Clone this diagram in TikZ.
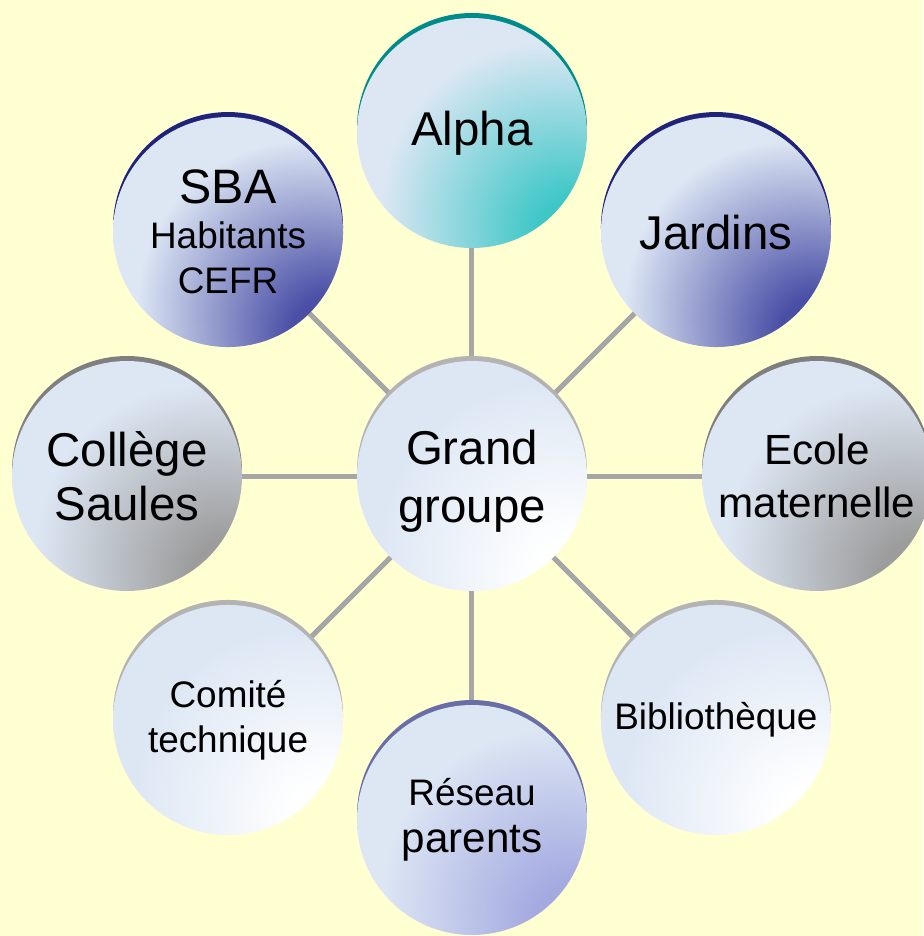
\documentclass[tikz,border=0pt]{standalone}
\usepackage{fontspec}
\setmainfont{Liberation Sans}
\usetikzlibrary{backgrounds}

\definecolor{paper}{HTML}{FFFFD2}
\definecolor{spoke}{HTML}{A6A6A6}
\definecolor{bubblelight}{HTML}{DDE7F4}
\colorlet{bubbledark}{white}
\definecolor{tealdark}{HTML}{3FC7C7}
\definecolor{tealrim}{HTML}{008B8B}
\definecolor{navydark}{HTML}{4A4FA6}
\definecolor{navyrim}{HTML}{1F237A}
\definecolor{greydark}{HTML}{9C9C9C}
\definecolor{greyrim}{HTML}{7F7F7F}
\definecolor{lilacdark}{HTML}{A4A9E0}
\definecolor{lilacrim}{HTML}{6A6EA6}
\definecolor{palerim}{HTML}{B3B3B3}

% light at the top left, dark towards the bottom right
\pgfdeclareradialshading[bubbledark,bubblelight]{bubble}{\pgfpoint{25bp}{-25bp}}{%
  color(0bp)=(bubbledark); color(9bp)=(bubbledark);
  color(36bp)=(bubblelight); color(100bp)=(bubblelight)}

\tikzset{
  shadecol/.code={\colorlet{bubbledark}{#1}},
  bubble/.style 2 args={circle, minimum size=4.6cm, inner sep=0pt, align=center,
    shadecol=#1, preaction={fill=#2, transform canvas={yshift=0.1cm}}, shading=bubble},
  spokeline/.style={draw=spoke, line width=2.85pt}
}

\begin{document}
\begin{tikzpicture}
\path[use as bounding box] (-9.44,-9.2) rectangle (9.02,9.52);

\node[bubble={white}{palerim}, font=\fontsize{27}{33}\selectfont, text height=58.5pt] (grand) at (0,0) {Grand\\groupe};

\node[bubble={tealdark}{tealrim}, font=\fontsize{27}{34}\selectfont] (alpha) at (90:6.86) {Alpha};
\node[bubble={navydark}{navyrim}, font=\fontsize{27}{34}\selectfont] (jardins) at (45:6.9) {Jardins};
\node[bubble={greydark}{greyrim}, font=\fontsize{24}{30}\selectfont] (ecole) at (0:6.9) {Ecole\\maternelle};
\node[bubble={white}{palerim}, font=\fontsize{21}{26}\selectfont] (biblio) at (-45:6.9) {Biblioth\`eque};
\node[bubble={lilacdark}{lilacrim}, font=\fontsize{21}{27}\selectfont] (reseau) at (-90:6.88) {R\'eseau\\{\fontsize{24}{27}\selectfont parents}};
\node[bubble={white}{palerim}, font=\fontsize{21}{25.5}\selectfont] (comite) at (-135:6.9) {Comit\'e\\technique};
\node[bubble={greydark}{greyrim}, font=\fontsize{27}{30.6}\selectfont] (college) at (180:6.9) {Coll\`ege\\Saules};
\node[bubble={navydark}{navyrim}, font=\fontsize{21}{25.5}\selectfont] (sba) at (135:6.9) {{\fontsize{27.5}{27}\selectfont SBA}\\Habitants\\CEFR};

\begin{scope}[on background layer]
\fill[paper] (-9.44,-9.2) rectangle (9.02,9.52);
\foreach \n in {alpha,jardins,ecole,biblio,reseau,comite,college,sba}
  \draw[spokeline] (grand.center) -- (\n.center);
\end{scope}
\end{tikzpicture}
\end{document}
